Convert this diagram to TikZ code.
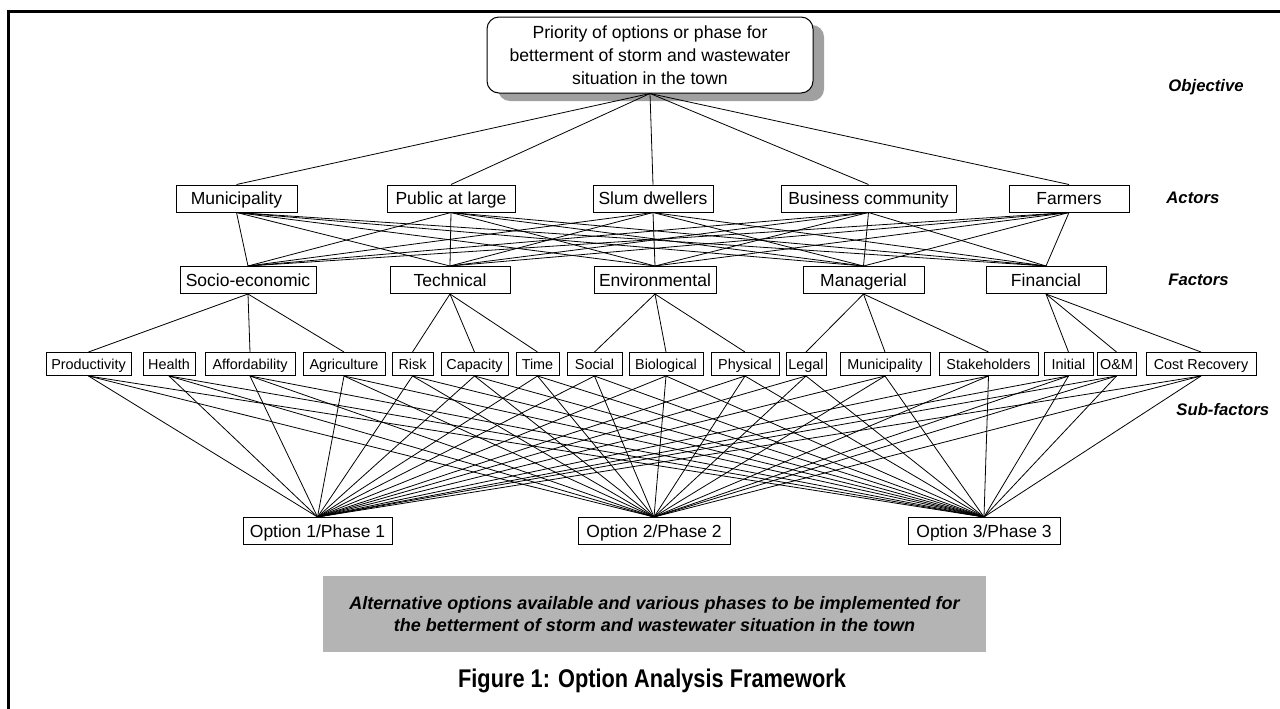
\documentclass[tikz,border=0pt]{standalone}
\usepackage{fontspec}
\setmainfont{Liberation Sans}
\newfontfamily\capfont{Liberation Sans}[FakeStretch=0.85]
\usetikzlibrary{shadows}
\definecolor{shadowgray}{RGB}{160,160,160}
\definecolor{notegray}{RGB}{180,180,180}
\tikzset{
  bw/.style={minimum width=#1*0.5pt},
  box/.style={draw, line width=0.5pt, fill=white, inner sep=0pt,
    font=\fontsize{8.75}{10}\selectfont, minimum height=13.5pt,
    text height=6.3pt, text depth=0.1pt},
  subbox/.style={draw, line width=0.5pt, fill=white, inner sep=0pt,
    font=\fontsize{7.2}{9}\selectfont, minimum height=11.5pt,
    text height=5.2pt, text depth=0.1pt},
  optbox/.style={box},
  level/.style={anchor=west, inner sep=0pt, font=\fontsize{8.35}{10}\selectfont\bfseries\itshape},
  link/.style={line width=0.4pt},
  frameline/.style={line width=1.35pt},
}
\begin{document}
\begin{tikzpicture}[x=0.5pt,y=-0.5pt]
\useasboundingbox (0,0) rectangle (1280,708);
% frame
\draw[frameline] (1282,11.3) -- (8.7,11.3) -- (8.7,710);

% objective
\node[draw, line width=0.5pt, fill=white, rounded corners=6pt, inner sep=0pt,
  minimum width=163pt, minimum height=38pt, align=center,
  font=\fontsize{8.8}{11.5}\selectfont,
  general shadow={fill=shadowgray, shadow xshift=5.5pt, shadow yshift=-4pt}]
  (top) at (650,55) {Priority of options or phase for\\betterment of storm and wastewater\\situation in the town};

% actors
\node[box, bw=121] (a1) at (236.5,198.5) {Municipality};
\node[box, bw=128] (a2) at (451,198.5) {Public at large};
\node[box, bw=120] (a3) at (653,198.5) {Slum dwellers};
\node[box, bw=175] (a4) at (868.5,198.5) {Business community};
\node[box, bw=120] (a5) at (1069,198.5) {Farmers};

% factors
\node[box, bw=136] (f1) at (248,280) {Socio-economic};
\node[box, bw=120] (f2) at (450,280) {Technical};
\node[box, bw=122] (f3) at (655,280) {Environmental};
\node[box, bw=121] (f4) at (863.5,280) {Managerial};
\node[box, bw=120] (f5) at (1046,280) {Financial};

% sub-factors
\node[subbox, bw=85]  (s1)  at (88.5,364) {Productivity};
\node[subbox, bw=52]  (s2)  at (169,364) {Health};
\node[subbox, bw=90]  (s3)  at (250,364) {Affordability};
\node[subbox, bw=82]  (s4)  at (344,364) {Agriculture};
\node[subbox, bw=41]  (s5)  at (412.5,364) {Risk};
\node[subbox, bw=67]  (s6)  at (474.5,364) {Capacity};
\node[subbox, bw=43]  (s7)  at (537.5,364) {Time};
\node[subbox, bw=55]  (s8)  at (594.5,364) {Social};
\node[subbox, bw=74]  (s9)  at (666,364) {Biological};
\node[subbox, bw=68]  (s10) at (745,364) {Physical};
\node[subbox, bw=40]  (s11) at (806,364) {Legal};
\node[subbox, bw=90]  (s12) at (885,364) {Municipality};
\node[subbox, bw=99]  (s13) at (988.5,364) {Stakeholders};
\node[subbox, bw=49]  (s14) at (1068.5,364) {Initial};
\node[subbox, bw=39]  (s15) at (1116.5,364) {O\&M};
\node[subbox, bw=110] (s16) at (1201,364) {Cost Recovery};

% options
\node[optbox, bw=149] (o1) at (317.5,531) {Option 1/Phase 1};
\node[optbox, bw=152] (o2) at (654,531) {Option 2/Phase 2};
\node[optbox, bw=152] (o3) at (984,531) {Option 3/Phase 3};

% level labels
\node[level] (lobj) at (1168,87) {Objective};
\node[level] (lact) at (1166,198) {Actors};
\node[level] (lfac) at (1168,280) {Factors};
\node[level] (lsub) at (1176,410) {Sub-factors};

% note and caption
\node[fill=notegray, inner sep=0pt, minimum width=331.5pt, minimum height=38pt, align=center,
  font=\fontsize{9}{10.9}\selectfont\bfseries\itshape]
  (note) at (654.5,614) {Alternative options available and various phases to be implemented for\\the betterment of storm and wastewater situation in the town};
\node[inner sep=0pt, font=\capfont\bfseries\fontsize{12.8}{14}\selectfont] (cap) at (652,681) {Figure 1: Option Analysis Framework};

% connectors
\foreach \a in {a1,a2,a3,a4,a5} \draw[link] (top.south) -- (\a.north);
\foreach \a in {a1,a2,a3,a4,a5} \foreach \f in {f1,f2,f3,f4,f5} \draw[link] (\a.south) -- (\f.north);
\foreach \f/\s in {f1/s1,f1/s3,f1/s4,f2/s5,f2/s6,f2/s7,f3/s8,f3/s9,f3/s10,f4/s11,f4/s12,f4/s13,f5/s14,f5/s15,f5/s16}
  \draw[link] (\f.south) -- (\s.north);
\foreach \s in {1,...,16} \foreach \o in {1,2,3} \draw[link] (s\s.south) -- (o\o.north);
\end{tikzpicture}
\end{document}
